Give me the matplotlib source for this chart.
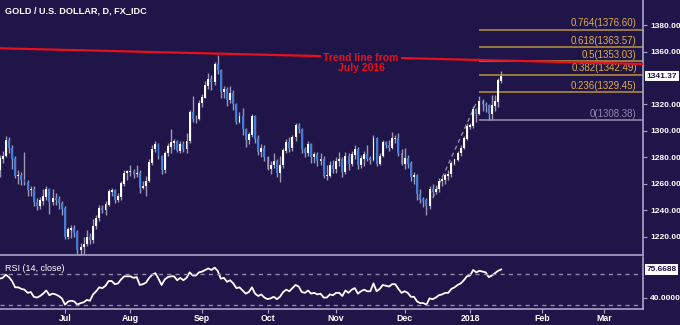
import numpy as np
import pandas as pd
import matplotlib
matplotlib.use('Agg')
import matplotlib.pyplot as plt

# daily candles, 2017-06-01 .. 2018-01-15 (one per business day)
opens = [1268, 1270, 1279, 1281, 1293, 1287, 1279, 1266, 1266, 1263, 1261, 1255, 1256, 1246, 1243, 1247, 1250, 1256, 1246, 1249, 1248, 1245,
         1241, 1220, 1225, 1226, 1223, 1210, 1212, 1214, 1219, 1217, 1228, 1234, 1241, 1240, 1244, 1254, 1255, 1248, 1250, 1260, 1268,
         1269, 1269, 1267, 1268, 1257, 1258, 1262, 1276, 1286, 1290, 1281, 1270, 1283, 1288, 1291, 1292, 1285, 1290, 1286, 1292, 1314, 1309, 1309,
         1321, 1325, 1334, 1339, 1337, 1350, 1346, 1329, 1331, 1323, 1328, 1320, 1307, 1311, 1301, 1293, 1297, 1311, 1294, 1284, 1287,
         1280, 1271, 1274, 1277, 1268, 1274, 1285, 1291, 1287, 1295, 1304, 1301, 1286, 1283, 1290, 1280, 1282, 1277, 1278, 1266, 1266, 1274,
         1271, 1277, 1278, 1269, 1281, 1275, 1282, 1286, 1274, 1279, 1282, 1279, 1278, 1294, 1275, 1281, 1291, 1289, 1287, 1294, 1294, 1283,
         1275, 1279, 1275, 1265, 1266, 1252, 1248, 1247, 1243, 1256, 1254, 1256, 1262, 1263, 1266, 1267, 1275, 1278, 1283, 1287, 1294,
         1303, 1304, 1316, 1313, 1322, 1320, 1319, 1313, 1319, 1322, 1338]
highs = [1272, 1282, 1285, 1296, 1295, 1289, 1281, 1270, 1269, 1284, 1263, 1258, 1258, 1249, 1250, 1256, 1258, 1257, 1256, 1253, 1251, 1247,
         1243, 1227, 1229, 1229, 1225, 1215, 1220, 1225, 1223, 1233, 1236, 1244, 1244, 1247, 1256, 1257, 1256, 1253, 1262, 1270, 1270,
         1274, 1271, 1274, 1270, 1262, 1266, 1279, 1289, 1292, 1291, 1282, 1285, 1291, 1301, 1294, 1293, 1292, 1292, 1298, 1316, 1326, 1312, 1323,
         1328, 1338, 1344, 1342, 1352, 1357, 1347, 1334, 1333, 1334, 1331, 1321, 1314, 1317, 1302, 1299, 1313, 1312, 1297, 1290, 1289,
         1281, 1277, 1283, 1279, 1281, 1287, 1294, 1295, 1297, 1306, 1306, 1302, 1288, 1292, 1291, 1284, 1284, 1283, 1281, 1274, 1277, 1278,
         1280, 1284, 1280, 1284, 1283, 1285, 1289, 1288, 1282, 1285, 1289, 1281, 1297, 1295, 1283, 1293, 1292, 1293, 1299, 1297, 1298, 1286,
         1287, 1282, 1277, 1269, 1267, 1256, 1250, 1249, 1258, 1260, 1259, 1264, 1265, 1268, 1270, 1277, 1279, 1285, 1289, 1296, 1306,
         1306, 1319, 1317, 1326, 1324, 1322, 1320, 1327, 1327, 1340, 1345]
lows = [1259, 1265, 1276, 1280, 1283, 1271, 1264, 1260, 1259, 1259, 1251, 1251, 1243, 1240, 1241, 1244, 1248, 1237, 1244, 1244, 1241, 1236,
        1218, 1218, 1219, 1220, 1207, 1204, 1207, 1213, 1214, 1215, 1226, 1232, 1238, 1236, 1243, 1251, 1245, 1246, 1248, 1258, 1263,
        1266, 1264, 1265, 1253, 1256, 1251, 1261, 1274, 1284, 1279, 1267, 1268, 1281, 1283, 1286, 1284, 1283, 1284, 1283, 1291, 1307, 1306, 1308,
        1318, 1325, 1332, 1331, 1335, 1343, 1325, 1325, 1319, 1321, 1316, 1305, 1306, 1297, 1288, 1290, 1295, 1291, 1282, 1280, 1277,
        1270, 1267, 1272, 1265, 1261, 1272, 1283, 1284, 1285, 1292, 1298, 1283, 1280, 1281, 1276, 1276, 1273, 1274, 1264, 1263, 1265, 1268,
        1268, 1273, 1265, 1267, 1270, 1273, 1279, 1271, 1272, 1273, 1277, 1275, 1277, 1273, 1274, 1280, 1287, 1285, 1286, 1291, 1281, 1274,
        1271, 1272, 1262, 1260, 1248, 1245, 1242, 1236, 1241, 1251, 1252, 1254, 1258, 1260, 1263, 1265, 1274, 1277, 1281, 1286, 1293,
        1301, 1302, 1307, 1312, 1315, 1314, 1308, 1309, 1315, 1318, 1336]
closes = [1270, 1279, 1281, 1293, 1287, 1279, 1266, 1266, 1263, 1261, 1255, 1256, 1246, 1243, 1247, 1250, 1256, 1246, 1249, 1248, 1245, 1241,
          1220, 1225, 1226, 1223, 1210, 1212, 1214, 1219, 1217, 1228, 1234, 1241, 1240, 1244, 1254, 1255, 1248, 1250, 1260, 1268, 1269,
          1269, 1267, 1268, 1257, 1258, 1262, 1276, 1286, 1290, 1281, 1270, 1283, 1288, 1291, 1292, 1285, 1290, 1286, 1292, 1314, 1309, 1309, 1321,
          1325, 1334, 1339, 1337, 1350, 1346, 1329, 1331, 1323, 1328, 1320, 1307, 1311, 1301, 1293, 1297, 1311, 1294, 1284, 1287, 1280,
          1271, 1274, 1277, 1268, 1274, 1285, 1291, 1287, 1295, 1304, 1301, 1286, 1283, 1290, 1280, 1282, 1277, 1278, 1266, 1266, 1274, 1271,
          1277, 1278, 1269, 1281, 1275, 1282, 1286, 1274, 1279, 1282, 1279, 1278, 1294, 1275, 1281, 1291, 1289, 1287, 1294, 1294, 1283, 1275,
          1279, 1275, 1265, 1266, 1252, 1248, 1247, 1243, 1256, 1254, 1256, 1262, 1263, 1266, 1267, 1275, 1278, 1283, 1287, 1294, 1303,
          1304, 1316, 1313, 1322, 1320, 1319, 1313, 1319, 1322, 1338, 1341.37]

rsi = [60, 64, 65, 69, 66, 61, 53, 53, 51, 50, 46, 47, 41, 40, 42, 45, 49, 43, 45, 44, 42, 39,
       31, 35, 36, 35, 31, 33, 34, 37, 36, 44, 48, 53, 52, 55, 61, 61, 57, 58, 63, 67, 67,
       67, 65, 66, 56, 57, 59, 65, 69, 71, 64, 56, 63, 66, 67, 67, 62, 65, 62, 65, 72, 68, 68, 72,
       73, 75, 77, 75, 78, 74, 64, 65, 60, 62, 58, 52, 53, 49, 45, 47, 53, 45, 42, 44, 40,
       38, 39, 41, 38, 41, 47, 50, 48, 52, 56, 54, 47, 46, 49, 45, 46, 44, 45, 40, 40, 44, 43,
       46, 46, 42, 49, 46, 50, 52, 45, 48, 50, 48, 48, 58, 48, 51, 56, 55, 54, 57, 57, 51, 46,
       48, 46, 41, 41, 35, 33, 33, 31, 39, 38, 40, 43, 44, 46, 46, 51, 53, 56, 58, 62, 67,
       68, 75, 72, 74, 73, 72, 66, 68, 71, 74, 75.6688]

month_labels = ['Jul', 'Aug', 'Sep', 'Oct', 'Nov', 'Dec', '2018', 'Feb', 'Mar']
price_ticks = [1220, 1240, 1260, 1280, 1300, 1320, 1360, 1380]

fib_labels = ['0.764', '0.618', '0.5', '0.382', '0.236', '0']
fib_prices = [1376.60, 1363.57, 1353.03, 1342.49, 1329.45, 1308.38]
fib_start = '2018-01-04'

trend_dates = ['2017-06-05', '2018-01-15']
trend_prices = [1362.4, 1353.2]
rally_dates = ['2017-12-14', '2018-01-03']
rally_prices = [1249, 1321]

BG = '#1f1548'
FG = 'white'
AXC = '#a9a4c8'
UP = 'white'
DOWN = '#3f7fdc'
WICK = '#9c98b8'
GOLD = '#e0ad4a'
GOLDLINE = '#b08a3c'
GRAY = '#8e8aa8'
RED = '#e8101c'

plt.rcParams['font.family'] = ['Liberation Sans', 'DejaVu Sans']

dates = pd.bdate_range('2017-06-01', '2018-01-15')
all_days = pd.bdate_range('2017-06-01', '2018-03-30')
x = np.arange(len(dates))
o = np.array(opens, float)
h = np.array(highs, float)
l = np.array(lows, float)
c = np.array(closes, float)

def pos(d):
    return all_days.get_loc(pd.Timestamp(d))

month_pos = [i for i in range(1, len(all_days)) if all_days[i].month != all_days[i - 1].month]

fig = plt.figure(figsize=(6.8, 3.25), dpi=100, facecolor=BG)
ax = fig.add_axes([0, 1 - 255 / 325, 643 / 680, 255 / 325], facecolor=BG)
ar = fig.add_axes([0, 1 - 309 / 325, 643 / 680, 52 / 325], facecolor=BG, sharex=ax)

xl = (1.14, 207.5)

# candles
up = c >= o
ax.vlines(x, l, h, color=WICK, lw=1, zorder=2)
ax.bar(x, np.abs(c - o) + 0.3, bottom=np.minimum(o, c), width=0.62,
       color=np.where(up, UP, DOWN), zorder=3, linewidth=0)

# trend line from July 2016
ax.axline((pos(trend_dates[0]), trend_prices[0]), (pos(trend_dates[1]), trend_prices[1]),
          color=RED, lw=1.6, zorder=4)
ax.text(117, 1351.5, 'Trend line from\nJuly 2016', color=RED, fontsize=7.5, fontweight='bold',
        ha='center', va='center', linespacing=1.0, zorder=5,
        bbox=dict(facecolor=BG, edgecolor='none', pad=1.5))

# rising dashed support
ax.plot([pos(d) for d in rally_dates], rally_prices, color=GRAY, lw=1, ls=(0, (3, 2.5)), zorder=1)

# fibonacci levels
fs = pos(fib_start)
for lab, p in zip(fib_labels, fib_prices):
    lc = GRAY if lab == '0' else GOLDLINE
    tc = GRAY if lab == '0' else GOLD
    ax.hlines(p, fs, xl[1], color=lc, lw=1.2, zorder=1)
    ax.text(205.5, p + 0.9, f'{lab}({p:.2f})', color=tc, fontsize=7, ha='right', va='bottom')

ax.set_xlim(*xl)
ax.set_ylim(1206, 1399)
ax.yaxis.tick_right()
ax.set_yticks(price_ticks)
ax.set_yticklabels([f'{t:.2f}' for t in price_ticks])
ax.tick_params(axis='y', colors=AXC, labelcolor=FG, labelsize=6, length=3, width=0.8, pad=2)
ax.tick_params(axis='x', bottom=False, labelbottom=False)
for lab in ax.get_yticklabels():
    lab.set_fontweight('bold')
for s in ['top', 'left']:
    ax.spines[s].set_visible(False)
for s in ['right', 'bottom']:
    ax.spines[s].set_color(AXC)
    ax.spines[s].set_linewidth(1.2)

# current price tag
ax.annotate(f'{closes[-1]:.2f}', xy=(1.0, closes[-1]), xycoords=('axes fraction', 'data'),
            xytext=(2.5, 0), textcoords='offset points', fontsize=6, fontweight='bold',
            color=BG, va='center', ha='left', annotation_clip=False,
            bbox=dict(facecolor='white', edgecolor='none', pad=1.2))

ax.text(0.008, 0.955, 'GOLD / U.S. DOLLAR, D, FX_IDC', transform=ax.transAxes, color=FG,
        fontsize=6.6, fontweight='bold', ha='left', va='center')

# RSI panel
ar.plot(x, rsi, color='white', lw=1.3)
for lv in (70, 30):
    ar.axhline(lv, color=GRAY, lw=1, ls=(0, (3, 3)))
ar.set_ylim(25.5, 91.5)
ar.yaxis.tick_right()
ar.set_yticks([40])
ar.set_yticklabels(['40.0000'])
ar.tick_params(axis='y', colors=AXC, labelcolor=FG, labelsize=6, length=3, width=0.8, pad=2)
for lab in ar.get_yticklabels():
    lab.set_fontweight('bold')
ar.set_xticks(month_pos)
ar.set_xticklabels(month_labels)
ar.tick_params(axis='x', colors=AXC, labelcolor=FG, labelsize=6.3, length=3, width=0.8, pad=0.5)
for lab in ar.get_xticklabels():
    lab.set_fontweight('bold')
for s in ['top', 'left']:
    ar.spines[s].set_visible(False)
for s in ['right', 'bottom']:
    ar.spines[s].set_color(AXC)
    ar.spines[s].set_linewidth(1.2)
ar.annotate(f'{rsi[-1]:.4f}', xy=(1.0, rsi[-1]), xycoords=('axes fraction', 'data'),
            xytext=(2.5, 0), textcoords='offset points', fontsize=6, fontweight='bold',
            color=BG, va='center', ha='left', annotation_clip=False,
            bbox=dict(facecolor='white', edgecolor='none', pad=1.2))
ar.text(0.008, 0.78, 'RSI (14, close)', transform=ar.transAxes, color=FG, fontsize=6.5,
        ha='left', va='center')

fig.savefig('out.png', dpi=100, facecolor=BG)
